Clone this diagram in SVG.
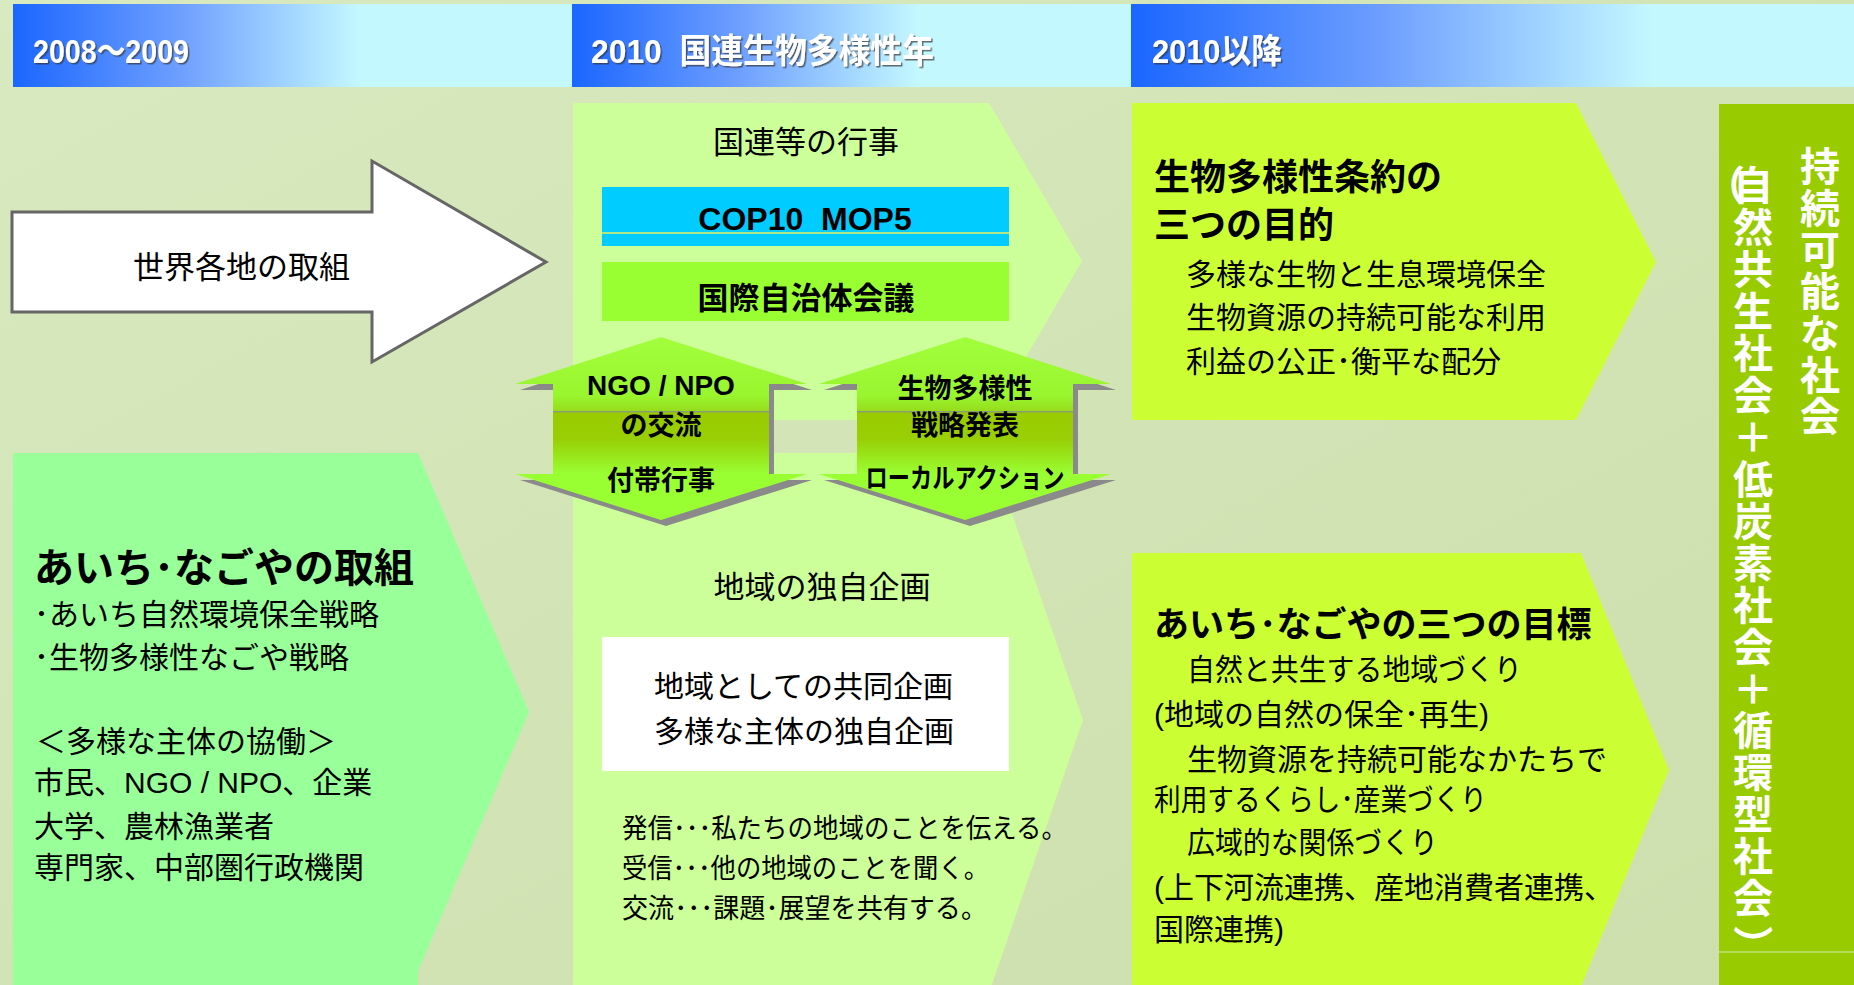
<svg xmlns="http://www.w3.org/2000/svg" width="1854" height="985" viewBox="0 0 1854 985">
<defs>
<style>
.t{font-family:"Liberation Sans","Noto Sans CJK JP",sans-serif;fill:#000}
.b{font-weight:bold}
.hd{font-family:"Liberation Sans","Noto Sans CJK JP",sans-serif;font-weight:bold;fill:#fff;font-size:34px;filter:url(#sh)}
.sd{font-family:"Noto Sans CJK JP",sans-serif;font-weight:bold;fill:#fff;font-size:40px}
.pl{fill:#99ff99}
.pm{fill:#ccff99}
.pr{fill:#ccff33}
.da{fill:url(#dag)}
.ds{fill:#8a8a8a}
</style>
<linearGradient id="bg" x1="0" y1="0" x2="1" y2="1">
<stop offset="0" stop-color="#d9e9c0"/>
<stop offset="0.5" stop-color="#d2e4b5"/>
<stop offset="1" stop-color="#cddfad"/>
</linearGradient>
<linearGradient id="hg1" x1="0" y1="0" x2="1" y2="0">
<stop offset="0" stop-color="#1a66ff"/>
<stop offset="0.3" stop-color="#6e9fff"/>
<stop offset="0.62" stop-color="#c4f8ff"/>
<stop offset="1" stop-color="#c4f8ff"/>
</linearGradient>
<linearGradient id="hg3" x1="0" y1="0" x2="1" y2="0">
<stop offset="0" stop-color="#1a66ff"/>
<stop offset="0.35" stop-color="#6e9fff"/>
<stop offset="0.72" stop-color="#c4f8ff"/>
<stop offset="1" stop-color="#c4f8ff"/>
</linearGradient>
<linearGradient id="dag" gradientUnits="userSpaceOnUse" x1="0" y1="337" x2="0" y2="520">
<stop offset="0" stop-color="#a2ff3c"/>
<stop offset="0.32" stop-color="#99f52e"/>
<stop offset="0.404" stop-color="#97dd1c"/>
<stop offset="0.405" stop-color="#8c9c74"/>
<stop offset="0.412" stop-color="#8c9c74"/>
<stop offset="0.413" stop-color="#99cc00"/>
<stop offset="0.56" stop-color="#99cf05"/>
<stop offset="0.75" stop-color="#99ff33"/>
<stop offset="1" stop-color="#99ff33"/>
</linearGradient>
<filter id="sh" x="-5%" y="-20%" width="115%" height="150%">
<feDropShadow dx="1.5" dy="1.5" stdDeviation="0.6" flood-color="#333" flood-opacity="0.7"/>
</filter>
</defs>

<rect x="0" y="0" width="1854" height="985" fill="url(#bg)"/>

<g id="headers">
<g id="h1"><rect x="13" y="4" width="559" height="83" fill="url(#hg1)"/>
<text class="hd" x="33" y="63" textLength="156" lengthAdjust="spacingAndGlyphs">2008～2009</text></g>
<g id="h2"><rect x="572" y="4" width="559" height="83" fill="url(#hg1)"/>
<text class="hd" x="591" y="63" textLength="343" lengthAdjust="spacingAndGlyphs" xml:space="preserve">2010  国連生物多様性年</text></g>
<g id="h3"><rect x="1131" y="4" width="723" height="83" fill="url(#hg3)"/>
<text class="hd" x="1152" y="63" textLength="130" lengthAdjust="spacingAndGlyphs">2010以降</text></g>
</g>

<g id="world">
<polygon points="12,212 372,212 372,161 546,262 372,362 372,312 12,312" fill="#fff" stroke="#666" stroke-width="3" stroke-linejoin="miter"/>
<text class="t" x="133" y="278" font-size="31">世界各地の取組</text>
</g>

<g id="aichi-nagoya">
<polygon class="pl" points="13,453 418,453 529,712 418,971 418,990 13,990"/>
<text class="t b" x="34" y="582" font-size="40">あいち･なごやの取組</text>
<text class="t" x="34" y="625" font-size="30">･あいち自然環境保全戦略</text>
<text class="t" x="34" y="668" font-size="30">･生物多様性なごや戦略</text>
<text class="t" x="36" y="752" font-size="30">＜多様な主体の協働＞</text>
<text class="t" x="34" y="793" font-size="30">市民、NGO / NPO、企業</text>
<text class="t" x="34" y="837" font-size="30">大学、農林漁業者</text>
<text class="t" x="34" y="878" font-size="30">専門家、中部圏行政機関</text>
</g>

<g id="un-events">
<polygon class="pm" points="573,103 989,103 1082,261 989,420 573,420"/>
<text class="t" x="806" y="153" font-size="31" text-anchor="middle">国連等の行事</text>
<rect x="602" y="187" width="407" height="59" fill="#00ccff"/>
<line x1="602" y1="233" x2="1009" y2="233" stroke="#e8f060" stroke-width="1.5"/>
<text class="t b" x="805" y="230" font-size="32" text-anchor="middle" xml:space="preserve">COP10  MOP5</text>
<rect x="602" y="262" width="407" height="59" fill="#99ff33"/>
<text class="t b" x="806" y="309" font-size="31" text-anchor="middle">国際自治体会議</text>
</g>

<g id="local-plans">
<polygon class="pm" points="573,453 991,453 1083,720 991,987 573,987"/>
<text class="t" x="822" y="598" font-size="31" text-anchor="middle">地域の独自企画</text>
<rect x="602" y="637" width="407" height="134" fill="#fff"/>
<text class="t" x="654" y="697" font-size="30">地域としての共同企画</text>
<text class="t" x="654" y="742" font-size="30">多様な主体の独自企画</text>
<text class="t" x="622" y="838" font-size="27" textLength="445" lengthAdjust="spacingAndGlyphs">発信･･･私たちの地域のことを伝える。</text>
<text class="t" x="622" y="878" font-size="27" textLength="367" lengthAdjust="spacingAndGlyphs">受信･･･他の地域のことを聞く。</text>
<text class="t" x="622" y="918" font-size="27" textLength="365" lengthAdjust="spacingAndGlyphs">交流･･･課題･展望を共有する。</text>
</g>

<g id="ngo-arrow">
<polygon class="ds" transform="translate(5,6)" points="661,337 807,384 769,384 769,474 807,474 661,520 515,474 553,474 553,384 515,384"/>
<polygon class="da" points="661,337 807,384 769,384 769,474 807,474 661,520 515,474 553,474 553,384 515,384"/>
<text class="t b" x="661" y="395" font-size="28" text-anchor="middle">NGO / NPO</text>
<text class="t b" x="661" y="435" font-size="27" text-anchor="middle">の交流</text>
<text class="t b" x="661" y="490" font-size="27" text-anchor="middle">付帯行事</text>
</g>

<g id="strategy-arrow">
<polygon class="ds" transform="translate(5,6)" points="965,337 1111,384 1073,384 1073,474 1111,474 965,520 819,474 857,474 857,384 819,384"/>
<polygon class="da" points="965,337 1111,384 1073,384 1073,474 1111,474 965,520 819,474 857,474 857,384 819,384"/>
<text class="t b" x="965" y="398" font-size="27" text-anchor="middle">生物多様性</text>
<text class="t b" x="965" y="435" font-size="27" text-anchor="middle">戦略発表</text>
<text class="t b" x="965" y="488" font-size="27" text-anchor="middle" textLength="199" lengthAdjust="spacingAndGlyphs">ローカルアクション</text>
</g>

<g id="cbd-goals">
<polygon class="pr" points="1132,103 1576,103 1656,262 1576,420 1132,420"/>
<text class="t b" x="1154" y="190" font-size="36">生物多様性条約の</text>
<text class="t b" x="1154" y="238" font-size="36">三つの目的</text>
<text class="t" x="1186" y="285" font-size="30">多様な生物と生息環境保全</text>
<text class="t" x="1186" y="328" font-size="30">生物資源の持続可能な利用</text>
<text class="t" x="1186" y="372" font-size="30">利益の公正･衡平な配分</text>
</g>

<g id="aichi-goals">
<polygon class="pr" points="1132,553 1581,553 1669,770 1581,987 1132,987"/>
<text class="t b" x="1154" y="637" font-size="35">あいち･なごやの三つの目標</text>
<text class="t" x="1187" y="680" font-size="30" textLength="335" lengthAdjust="spacingAndGlyphs">自然と共生する地域づくり</text>
<text class="t" x="1154" y="725" font-size="30">(地域の自然の保全･再生)</text>
<text class="t" x="1187" y="770" font-size="30">生物資源を持続可能なかたちで</text>
<text class="t" x="1154" y="810" font-size="30" textLength="333" lengthAdjust="spacingAndGlyphs">利用するくらし･産業づくり</text>
<text class="t" x="1187" y="853" font-size="30" textLength="251" lengthAdjust="spacingAndGlyphs">広域的な関係づくり</text>
<text class="t" x="1154" y="898" font-size="30">(上下河流連携、産地消費者連携、</text>
<text class="t" x="1154" y="940" font-size="30">国際連携)</text>
</g>

<g id="sustainable-society">
<rect x="1719" y="104" width="135" height="881" fill="#99cc00"/>
<line x1="1719" y1="952" x2="1854" y2="952" stroke="#d4ecb0" stroke-width="1.2"/>
<text class="sd" x="1800 1800 1800 1800 1800 1800 1800" y="181.2 222.9 264.5 306.2 347.9 389.5 431.2">持続可能な社会</text>
<text class="sd" x="1705 1733 1733 1733 1733 1733 1733 1733 1733 1733 1733 1733 1733 1733 1733 1733 1733 1733 1733 1738" y="200 200.2 242.1 284.1 326 368 409.9 451.8 493.8 535.7 577.7 619.6 661.5 703.5 745.4 787.4 829.3 871.3 913.2 925" rotate="0 0 0 0 0 0 0 0 0 0 0 0 0 0 0 0 0 0 0 90">（自然共生社会＋低炭素社会＋循環型社会）</text>
</g>

<g id="connectors"></g>
</svg>
